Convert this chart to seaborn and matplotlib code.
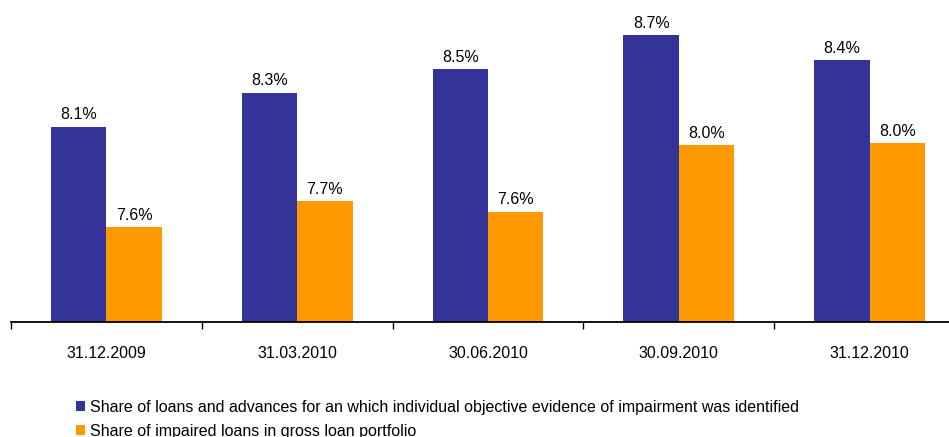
import pandas as pd
import numpy as np
import matplotlib
matplotlib.use("Agg")
import matplotlib.pyplot as plt
import seaborn as sns
from matplotlib.patches import Patch

# data
dates = ["31.12.2009", "31.03.2010", "30.06.2010", "30.09.2010", "31.12.2010"]
share_individual = [8.15, 8.35, 8.49, 8.69, 8.54]
share_impaired = [7.56, 7.71, 7.65, 8.04, 8.05]
labels_individual = ["8.1%", "8.3%", "8.5%", "8.7%", "8.4%"]
labels_impaired = ["7.6%", "7.7%", "7.6%", "8.0%", "8.0%"]
series_names = [
    "Share of loans and advances for an which individual objective evidence of impairment was identified",
    "Share of impaired loans in gross loan portfolio",
]
colors = ["#333399", "#FF9900"]

df = pd.DataFrame({
    "date": dates * 2,
    "value": share_individual + share_impaired,
    "series": [series_names[0]] * len(dates) + [series_names[1]] * len(dates),
})

sns.set_style("white")
plt.rcParams["font.family"] = ["Liberation Sans", "DejaVu Sans"]
plt.rcParams["text.color"] = "black"
plt.rcParams["xtick.color"] = "black"

fig = plt.figure(figsize=(9.49, 4.37), dpi=100)
ax = fig.add_axes([11 / 949, 115 / 437, 954 / 949, 322 / 437])

sns.barplot(data=df, x="date", y="value", hue="series", palette=colors,
            width=0.58, ax=ax, legend=False, saturation=1, errorbar=None,
            linewidth=0)

ax.set_ylim(7.0, 7.0 + 322 / 170)
ax.set_xlim(-0.5, len(dates) - 0.5)

for cont, labs in zip(ax.containers, [labels_individual, labels_impaired]):
    ax.bar_label(cont, labels=labs, padding=3, fontsize=11.5, color="black")

for s in ["left", "top", "right"]:
    ax.spines[s].set_visible(False)
ax.spines["bottom"].set_linewidth(1.3)
ax.spines["bottom"].set_color("black")

ax.set_yticks([])
ax.set_xlabel("")
ax.set_ylabel("")
ax.set_xticks(np.arange(-0.5, len(dates), 1.0), minor=True)
ax.tick_params(axis="x", which="minor", length=5, width=1, color="black", direction="out", bottom=True)
ax.tick_params(axis="x", which="major", length=0, pad=17, labelsize=11.5, labelcolor="black")

handles = [Patch(facecolor=c, edgecolor="none") for c in colors]
fig.legend(handles, series_names, loc="upper left", bbox_to_anchor=(76 / 949, 1 - 400 / 437),
           frameon=False, fontsize=11.5, handlelength=0.55, handleheight=0.6,
           handletextpad=0.3, labelspacing=0.55, borderaxespad=0, borderpad=0)

fig.savefig("out.png", dpi=100)
